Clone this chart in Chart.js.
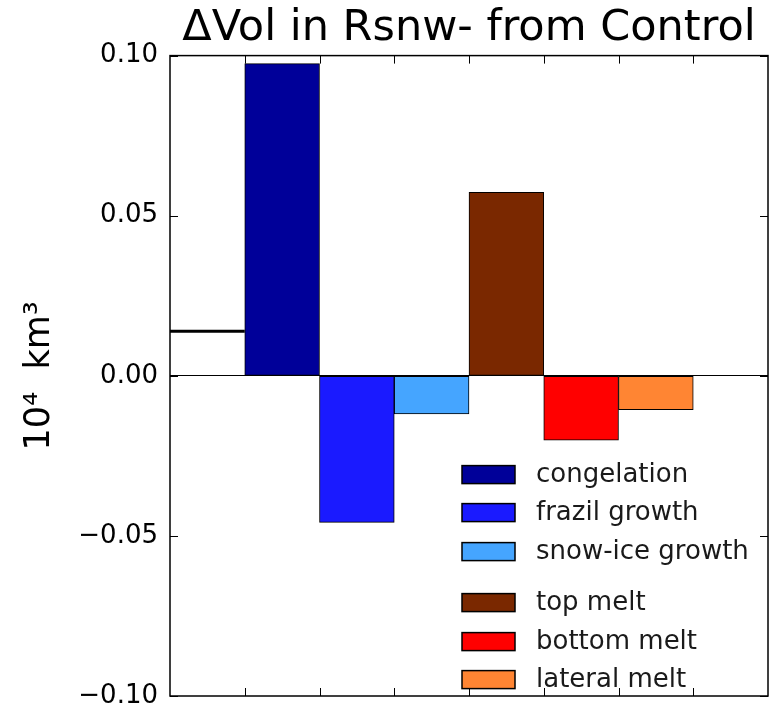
<!DOCTYPE html>
<html>
<head>
<meta charset="utf-8">
<script src="https://cdn.jsdelivr.net/npm/chart.js@4.4.1/dist/chart.umd.min.js"></script>
<style>
html,body{margin:0;padding:0;background:#fff;}
#okvir{width:774px;height:707px;}
</style>
</head>
<body>
<div id="okvir"><canvas id="graf"></canvas></div>
<script>
var procesi = ['congelation','frazil growth','snow-ice growth','top melt','bottom melt','lateral melt'];
var promjene = [0.0975, -0.0458, -0.0119, 0.0573, -0.0201, -0.0106];
var boje = ['#000099','#1a1aff','#45a5ff','#7a2800','#ff0000','#ff8533'];
var pozicije = [1.5, 2.5, 3.5, 4.5, 5.5, 6.5];
var ukupno = 0.0139;
var ukupnoX = [0, 1];
var yTickovi = [-0.10, -0.05, 0, 0.05, 0.10];
var yOznake = ['\u22120.10', '\u22120.05', '0.00', '0.05', '0.10'];
var xTickovi = [1, 2, 3, 4, 5, 6, 7];

var font = 'DejaVu Sans';

// legenda i tickovi prema unutra
var okvirPlugin = {
    id: 'okvirPlugin',
    afterDraw: function(chart){
        var ctx = chart.ctx;
        var ca = chart.chartArea;
        var xs = chart.scales.x;
        var ys = chart.scales.y;
        ctx.save();

        var redovi = [419, 457, 496, 547, 586, 624];
        ctx.font = '26px "' + font + '"';
        ctx.textBaseline = 'middle';
        ctx.textAlign = 'left';
        for(var i = 0; i < procesi.length; i++){
            var y = ca.top + redovi[i];
            ctx.fillStyle = boje[i];
            ctx.fillRect(ca.left + 292, y - 9, 53, 18);
            ctx.strokeStyle = '#000';
            ctx.lineWidth = 1.5;
            ctx.strokeRect(ca.left + 292, y - 9, 53, 18);
            ctx.fillStyle = '#1a1a1a';
            ctx.fillText(procesi[i], ca.left + 366, y + 1);
        }

        ctx.strokeStyle = '#000';
        ctx.lineWidth = 1;
        ctx.beginPath();
        ys.ticks.forEach(function(t){
            var py = Math.round(ys.getPixelForValue(t.value)) + 0.5;
            ctx.moveTo(ca.left, py); ctx.lineTo(ca.left + 8, py);
            ctx.moveTo(ca.right, py); ctx.lineTo(ca.right - 8, py);
        });
        xTickovi.forEach(function(v){
            var px = Math.round(xs.getPixelForValue(v)) + 0.5;
            ctx.moveTo(px, ca.top); ctx.lineTo(px, ca.top + 8);
            ctx.moveTo(px, ca.bottom); ctx.lineTo(px, ca.bottom - 8);
        });
        ctx.stroke();

        ctx.lineWidth = 1.5;
        ctx.strokeRect(ca.left, ca.top, ca.right - ca.left, ca.bottom - ca.top);
        ctx.restore();
    }
};

var graf = new Chart(document.getElementById('graf'), {
    type: 'bar',
    data: {
        datasets: [{
            type: 'bar',
            data: pozicije.map(function(x, i){ return {x: x, y: promjene[i]}; }),
            backgroundColor: boje,
            borderColor: '#000',
            borderWidth: 1,
            borderSkipped: false,
            barPercentage: 1,
            categoryPercentage: 1
        }, {
            type: 'line',
            data: ukupnoX.map(function(x){ return {x: x, y: ukupno}; }),
            borderColor: '#000',
            borderWidth: 3,
            pointRadius: 0,
            fill: false
        }]
    },
    options: {
        responsive: true,
        maintainAspectRatio: false,
        devicePixelRatio: 1,
        animation: false,
        layout: { padding: { top: 0, right: 6, bottom: 11, left: 0 } },
        plugins: {
            legend: { display: false },
            tooltip: { enabled: false }
        },
        scales: {
            x: {
                type: 'linear',
                position: 'top',
                min: 0,
                max: 8,
                offset: false,
                grid: { display: false, drawTicks: false },
                border: { display: false },
                ticks: { display: false },
                title: {
                    display: true,
                    text: '\u0394Vol in Rsnw- from Control',
                    color: '#000',
                    font: { family: font, size: 43 },
                    padding: { top: 3, bottom: 1 }
                }
            },
            y: {
                min: -0.1,
                max: 0.1,
                afterBuildTicks: function(scale){
                    scale.ticks = yTickovi.map(function(v){ return {value: v}; });
                },
                afterFit: function(scale){
                    scale.width = 170;
                    scale.paddingTop = 0;
                    scale.paddingBottom = 0;
                },
                grid: {
                    drawTicks: false,
                    color: function(c){ return c.tick && c.tick.value === 0 ? '#000' : 'rgba(0,0,0,0)'; },
                    lineWidth: 1
                },
                border: { display: false },
                ticks: {
                    padding: 12,
                    color: '#000',
                    font: { family: font, size: 26 },
                    callback: function(v, i){ return yOznake[i]; }
                },
                title: {
                    display: true,
                    text: '10\u2074  km\u00b3',
                    color: '#000',
                    font: { family: font, size: 35 },
                    padding: { top: 19, bottom: 0 }
                }
            }
        }
    },
    plugins: [okvirPlugin]
});
</script>
</body>
</html>
